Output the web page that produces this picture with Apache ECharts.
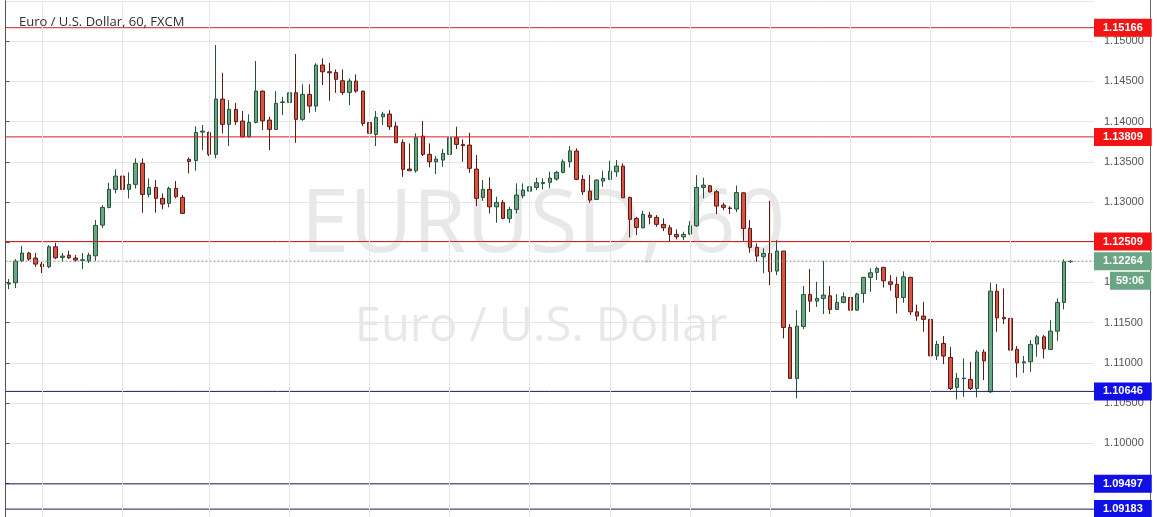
<!DOCTYPE html>
<html>
<head>
<meta charset="utf-8">
<title>EURUSD, 60</title>
<script src="https://cdn.jsdelivr.net/npm/echarts@6/dist/echarts.min.js"></script>
<style>
  html, body { margin: 0; padding: 0; background: #fff; }
  #main { width: 1157px; height: 517px; }
</style>
</head>
<body>
<div id="main"></div>
<script>
// hourly EUR/USD candles (oldest first)
const opens = [
  1.11980, 1.11996, 1.12269, 1.12365, 1.12303, 1.12228, 1.12195, 1.12443, 1.12311, 1.12340,
  1.12303, 1.12273, 1.12269, 1.12331, 1.12713, 1.12933, 1.13157, 1.13322, 1.13157, 1.13219,
  1.13480, 1.13094, 1.13181, 1.13045, 1.12983, 1.13169, 1.13057, 1.13530, 1.13515, 1.13869,
  1.13865, 1.13592, 1.14279, 1.13965, 1.14151, 1.14006, 1.13810, 1.13989, 1.14378, 1.14018,
  1.13902, 1.14236, 1.14238, 1.14357, 1.14027, 1.14337, 1.14192, 1.14702, 1.14618, 1.14611,
  1.14507, 1.14362, 1.14503, 1.14378, 1.13987, 1.13840, 1.14059, 1.14093, 1.13943, 1.13741,
  1.13409, 1.13388, 1.13819, 1.13592, 1.13500, 1.13521, 1.13592, 1.13798, 1.13716, 1.13707,
  1.13409, 1.13057, 1.13157, 1.12940, 1.12995, 1.12796, 1.12908, 1.13077, 1.13135, 1.13181,
  1.13231, 1.13244, 1.13285, 1.13368, 1.13500, 1.13633, 1.13281, 1.13135, 1.13032, 1.13260,
  1.13281, 1.13375, 1.13446, 1.13057, 1.12796, 1.12679, 1.12837, 1.12809, 1.12722, 1.12679,
  1.12597, 1.12567, 1.12601, 1.12704, 1.13181, 1.13201, 1.13127, 1.12961, 1.12925, 1.12912,
  1.13114, 1.12672, 1.12436, 1.12319, 1.12361, 1.12141, 1.12390, 1.11441, 1.10807, 1.11453,
  1.11851, 1.11768, 1.11802, 1.11834, 1.11665, 1.11752, 1.11814, 1.11656, 1.11864, 1.12063,
  1.12125, 1.12187, 1.12008, 1.11976, 1.11814, 1.12063, 1.11635, 1.11582, 1.11541, 1.11088,
  1.11242, 1.11068, 1.10696, 1.10805, 1.10795, 1.10683, 1.11134, 1.10641, 1.11892, 1.11566,
  1.11553, 1.11168, 1.11001, 1.11014, 1.11234, 1.11324, 1.11168, 1.11395, 1.11752, 1.12257
];
const closes = [
  1.11992, 1.12265, 1.12365, 1.12290, 1.12228, 1.12195, 1.12443, 1.12306, 1.12328, 1.12306,
  1.12278, 1.12282, 1.12340, 1.12709, 1.12933, 1.13157, 1.13322, 1.13157, 1.13219, 1.13480,
  1.13094, 1.13181, 1.13045, 1.12974, 1.13169, 1.13065, 1.12858, 1.13505, 1.13865, 1.13881,
  1.13592, 1.14279, 1.13965, 1.14151, 1.13997, 1.13810, 1.13989, 1.14378, 1.14009, 1.13902,
  1.14226, 1.14244, 1.14357, 1.14027, 1.14337, 1.14192, 1.14702, 1.14618, 1.14606, 1.14524,
  1.14362, 1.14503, 1.14378, 1.13977, 1.13853, 1.14052, 1.14093, 1.13935, 1.13736, 1.13405,
  1.13388, 1.13798, 1.13592, 1.13500, 1.13533, 1.13604, 1.13798, 1.13716, 1.13699, 1.13418,
  1.13045, 1.13157, 1.12940, 1.12995, 1.12796, 1.12908, 1.13086, 1.13148, 1.13189, 1.13239,
  1.13244, 1.13297, 1.13368, 1.13500, 1.13636, 1.13281, 1.13127, 1.13024, 1.13272, 1.13293,
  1.13384, 1.13446, 1.13052, 1.12784, 1.12684, 1.12846, 1.12809, 1.12722, 1.12679, 1.12597,
  1.12567, 1.12597, 1.12704, 1.13181, 1.13210, 1.13127, 1.12949, 1.12933, 1.12920, 1.13117,
  1.12672, 1.12436, 1.12328, 1.12361, 1.12132, 1.12390, 1.11441, 1.10807, 1.11457, 1.11851,
  1.11768, 1.11802, 1.11843, 1.11665, 1.11752, 1.11822, 1.11656, 1.11855, 1.12063, 1.12120,
  1.12175, 1.12021, 1.11976, 1.11814, 1.12070, 1.11635, 1.11582, 1.11541, 1.11088, 1.11230,
  1.11085, 1.10683, 1.10807, 1.10811, 1.10683, 1.11134, 1.11026, 1.11892, 1.11561, 1.11548,
  1.11159, 1.11001, 1.11014, 1.11230, 1.11324, 1.11175, 1.11395, 1.11752, 1.12257, 1.12264
];
const lows = [
  1.11917, 1.11930, 1.12253, 1.12269, 1.12195, 1.12116, 1.12178, 1.12290, 1.12253, 1.12290,
  1.12257, 1.12166, 1.12241, 1.12269, 1.12676, 1.12920, 1.13107, 1.13052, 1.13045, 1.13169,
  1.12866, 1.13057, 1.12866, 1.12908, 1.12933, 1.13045, 1.12850, 1.13356, 1.13388, 1.13645,
  1.13571, 1.13542, 1.13853, 1.13695, 1.13956, 1.13803, 1.13803, 1.13977, 1.13894, 1.13645,
  1.13894, 1.14080, 1.14018, 1.13736, 1.14009, 1.14109, 1.14121, 1.14453, 1.14258, 1.14357,
  1.14329, 1.14204, 1.14357, 1.13943, 1.13769, 1.13695, 1.13956, 1.13894, 1.13736, 1.13313,
  1.13388, 1.13363, 1.13571, 1.13430, 1.13347, 1.13438, 1.13542, 1.13658, 1.13500, 1.13363,
  1.12949, 1.13015, 1.12858, 1.12741, 1.12787, 1.12741, 1.12858, 1.13045, 1.13002, 1.13148,
  1.13157, 1.13169, 1.13264, 1.13356, 1.13430, 1.13272, 1.13086, 1.12990, 1.13024, 1.13189,
  1.13272, 1.13313, 1.13052, 1.12560, 1.12589, 1.12672, 1.12722, 1.12692, 1.12638, 1.12505,
  1.12535, 1.12526, 1.12589, 1.12692, 1.13045, 1.13117, 1.12850, 1.12899, 1.12850, 1.12874,
  1.12518, 1.12369, 1.12257, 1.12112, 1.11967, 1.12091, 1.11305, 1.10807, 1.10559, 1.11420,
  1.11635, 1.11697, 1.11607, 1.11607, 1.11656, 1.11740, 1.11511, 1.11647, 1.11747, 1.11884,
  1.12029, 1.11938, 1.11896, 1.11615, 1.11747, 1.11594, 1.11523, 1.11387, 1.11085, 1.11035,
  1.10985, 1.10662, 1.10546, 1.10579, 1.10662, 1.10571, 1.10786, 1.10628, 1.11387, 1.11482,
  1.11159, 1.10820, 1.10877, 1.10889, 1.11076, 1.11056, 1.11159, 1.11275, 1.11665, 1.12245
];
const highs = [
  1.12042, 1.12290, 1.12452, 1.12381, 1.12369, 1.12257, 1.12464, 1.12493, 1.12365, 1.12393,
  1.12340, 1.12365, 1.12369, 1.12775, 1.12961, 1.13239, 1.13405, 1.13330, 1.13368, 1.13542,
  1.13542, 1.13293, 1.13272, 1.13107, 1.13189, 1.13260, 1.13086, 1.13554, 1.13940, 1.13956,
  1.13875, 1.14950, 1.14606, 1.14267, 1.14233, 1.14130, 1.14089, 1.14751, 1.14385, 1.14059,
  1.14378, 1.14308, 1.14391, 1.14838, 1.14462, 1.14462, 1.14723, 1.14785, 1.14730, 1.14648,
  1.14648, 1.14536, 1.14586, 1.14385, 1.14250, 1.14130, 1.14121, 1.14142, 1.13997, 1.13778,
  1.13728, 1.13853, 1.14006, 1.13728, 1.13571, 1.13658, 1.13894, 1.13935, 1.13778, 1.13860,
  1.13583, 1.13272, 1.13306, 1.13065, 1.13024, 1.12940, 1.13231, 1.13231, 1.13251, 1.13301,
  1.13293, 1.13375, 1.13388, 1.13530, 1.13695, 1.13666, 1.13334, 1.13334, 1.13281, 1.13388,
  1.13512, 1.13521, 1.13480, 1.13065, 1.12816, 1.12891, 1.12878, 1.12837, 1.12796, 1.12713,
  1.12659, 1.12630, 1.12763, 1.13334, 1.13301, 1.13210, 1.13148, 1.12990, 1.12949, 1.13204,
  1.13117, 1.12775, 1.12485, 1.12423, 1.13015, 1.12526, 1.12390, 1.11482, 1.11656, 1.11955,
  1.12166, 1.12008, 1.12269, 1.11955, 1.11855, 1.11876, 1.11830, 1.11871, 1.12070, 1.12175,
  1.12195, 1.12195, 1.12091, 1.12070, 1.12137, 1.12070, 1.11725, 1.11759, 1.11864, 1.11275,
  1.11333, 1.11200, 1.10877, 1.11056, 1.11014, 1.11159, 1.11168, 1.11996, 1.11980, 1.11926,
  1.11677, 1.11209, 1.11085, 1.11283, 1.11346, 1.11346, 1.11532, 1.11802, 1.12287, 1.12280
];

// drawn levels and price boxes
const resistance = [1.15166, 1.13809, 1.12509];
const support = [1.10646, 1.09497, 1.09183];
const lastPrice = 1.12264;
const countdown = '59:06';

// candles that the vertical grid lines pass through
const gridIdx = [5, 17, 30, 42, 54, 66, 78, 90, 102, 114, 126, 138, 150];

// visible price range of the pane
const yMin = 1.09085;
const yMax = 1.15498;

const padBars = 3; // empty room right of the last candle
const cats = [];
for (let i = 0; i < opens.length + padBars; i++) cats.push(String(i));
const candles = opens.map((o, i) => [o, closes[i], lows[i], highs[i]]);

const boxFont = { color: '#fff', fontWeight: 'bold', fontSize: 11, fontFamily: 'Liberation Sans' };

// a horizontal level across the whole pane (on the hidden 0..1 x axis) with its price box
function levelSeries(v, lineColor, boxColor, dash) {
  return {
    type: 'line',
    xAxisIndex: 1,
    data: [[0, v], [1, v]],
    z: 3,
    silent: true,
    symbol: 'none',
    color: lineColor,
    lineStyle: { color: lineColor, width: 1, type: dash || 'solid' },
    endLabel: Object.assign({
      show: true,
      distance: 0,
      formatter: v.toFixed(5),
      backgroundColor: boxColor,
      padding: [3, 9, 2, 9],
      lineHeight: 13
    }, boxFont)
  };
}

const levels = [];
resistance.forEach(v => levels.push(levelSeries(v, '#d01f1f', '#f21414')));
support.forEach(v => levels.push(levelSeries(v, '#1b1b58', '#0f0fe6')));
levels.push(levelSeries(lastPrice, '#8a8a8a', '#6ba583', [2, 2]));

const chart = echarts.init(document.getElementById('main'));

chart.setOption({
  animation: false,
  backgroundColor: '#fff',
  title: {
    text: 'Euro / U.S. Dollar, 60, FXCM',
    left: 14,
    top: 11,
    textStyle: { fontSize: 13, fontWeight: 'normal', color: '#2f2f2f', fontFamily: 'Open Sans' }
  },
  grid: { left: 5.5, right: 63, top: 1, bottom: 0 },
  xAxis: [{
    type: 'category',
    data: cats,
    boundaryGap: true,
    show: false
  }, {
    type: 'value',
    min: 0,
    max: 1,
    show: false
  }],
  yAxis: [{
    type: 'value',
    position: 'right',
    min: yMin,
    max: yMax,
    splitNumber: 12,
    axisLine: { show: true, lineStyle: { color: '#555' } },
    axisTick: { show: true, length: 4, lineStyle: { color: '#555' } },
    axisLabel: {
      color: '#555', fontSize: 11, fontFamily: 'Liberation Sans', margin: 10,
      showMinLabel: false, showMaxLabel: false,
      formatter: v => v.toFixed(5)
    },
    splitLine: { show: true, lineStyle: { color: '#e6e6e6' } }
  }, {
    type: 'value',
    position: 'left',
    min: yMin,
    max: yMax,
    axisLine: { show: true, lineStyle: { color: '#555' } },
    axisTick: { show: false },
    axisLabel: { show: false },
    splitLine: { show: false }
  }],
  graphic: [
    {
      id: 'wmSymbol', type: 'text', z: -10, silent: true,
      style: {
        x: 543, y: 227, text: 'EURUSD, 60',
        font: '87px "Open Sans"', fill: '#e8e8e8',
        align: 'center', verticalAlign: 'middle', textAlign: 'center', textVerticalAlign: 'middle'
      }
    },
    {
      id: 'wmName', type: 'text', z: -10, silent: true,
      style: {
        x: 541, y: 328, text: 'Euro / U.S. Dollar',
        font: '47px "Open Sans"', fill: '#e8e8e8',
        align: 'center', verticalAlign: 'middle', textAlign: 'center', textVerticalAlign: 'middle'
      }
    },
    {
      id: 'frameRight', type: 'line', silent: true,
      shape: { x1: 1150.5, y1: 0, x2: 1150.5, y2: 517 },
      style: { stroke: '#666', lineWidth: 1 }
    }
  ],
  series: [
    {
      // vertical time grid
      type: 'line',
      data: [],
      z: 1,
      silent: true,
      markLine: {
        silent: true,
        symbol: ['none', 'none'],
        label: { show: false },
        lineStyle: { color: '#e6e6e6', type: 'solid', width: 1 },
        data: gridIdx.map(i => ({ xAxis: i }))
      }
    },
    {
      type: 'candlestick',
      data: candles,
      barWidth: 4,
      itemStyle: {
        color: '#6ba583',
        color0: '#d75442',
        borderColor: '#225437',
        borderColor0: '#5b1a13',
        borderWidth: 1
      }
    }
  ].concat(levels)
});

// countdown box sits just under the last-price box
const lastY = chart.convertToPixel({ yAxisIndex: 0 }, lastPrice);
chart.setOption({
  graphic: [{
    id: 'countdown', type: 'text', silent: true, z: 100,
    style: {
      x: 1110, y: lastY + 19.5, text: countdown,
      font: 'bold 11px "Liberation Sans"', fill: '#fff',
      align: 'left', verticalAlign: 'middle', textAlign: 'left', textVerticalAlign: 'middle',
      backgroundColor: '#6ba583', padding: [3, 7, 2, 6], lineHeight: 13
    }
  }]
});
</script>
</body>
</html>
